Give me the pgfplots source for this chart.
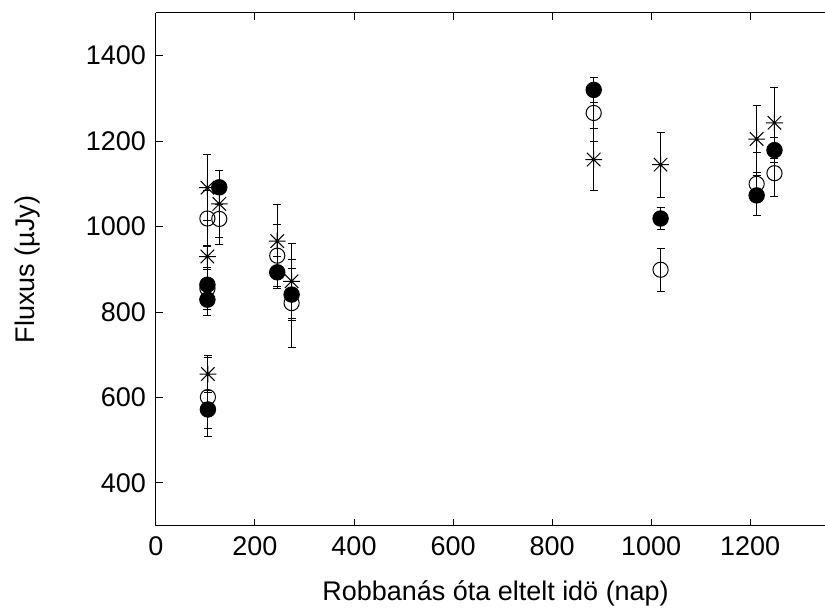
\documentclass[border=0pt]{standalone}
\usepackage{fontspec}
\setmainfont{Liberation Sans}
\usepackage{pgfplots}
\usepackage{pgfplotstable}
\pgfplotsset{compat=1.18}
\newcommand{\tf}{\fontsize{13.5}{16}\selectfont}
\pgfdeclareplotmark{gpstar}{%
 \pgfpathmoveto{\pgfqpoint{-\pgfplotmarksize}{0pt}}\pgfpathlineto{\pgfqpoint{\pgfplotmarksize}{0pt}}%
 \pgfpathmoveto{\pgfqpoint{0pt}{-\pgfplotmarksize}}\pgfpathlineto{\pgfqpoint{0pt}{\pgfplotmarksize}}%
 \pgfpathmoveto{\pgfqpoint{-0.8\pgfplotmarksize}{-0.8\pgfplotmarksize}}\pgfpathlineto{\pgfqpoint{0.8\pgfplotmarksize}{0.8\pgfplotmarksize}}%
 \pgfpathmoveto{\pgfqpoint{-0.8\pgfplotmarksize}{0.8\pgfplotmarksize}}\pgfpathlineto{\pgfqpoint{0.8\pgfplotmarksize}{-0.8\pgfplotmarksize}}%
 \pgfusepathqstroke}

\pgfplotstableread{
x y e
105 572 45
104 829 38
104 864 35
128 1092 40
245 893 37
274 841 60
884 1320 29
1019 1019 25
1213 1073 47
1249 1179 30
}\filledtab

\pgfplotstableread{
x y e
105 601 92
104 855 50
104 1019 65
128 1018 60
245 932 72
274 821 103
884 1266 67
1019 899 50
1213 1100 74
1249 1125 54
}\opentab

\pgfplotstableread{
x y e
105 655 43
104 930 25
104 1091 77
128 1053 78
245 966 85
274 872 88
884 1157 73
1019 1145 76
1213 1205 78
1249 1243 83
}\startab

\begin{document}
\begin{tikzpicture}
\begin{axis}[
  scale only axis,
  width=334.5pt, height=256.5pt,
  xmin=0, xmax=1350, ymin=300, ymax=1500,
  xtick={0,200,400,600,800,1000,1200}, ytick={400,600,800,1000,1200,1400},
  xticklabels={{\tf 0},{\tf 200},{\tf 400},{\tf 600},{\tf 800},{\tf 1000},{\tf 1200}},
  yticklabels={{\tf 400},{\tf 600},{\tf 800},{\tf 1000},{\tf 1200},{\tf 1400}},
  axis x line*=box, axis y line*=left,
  tick align=inside, major tick length=3.5pt,
  tick style={black, line width=0.5pt},
  axis line style={black, line width=0.5pt},
  xticklabel style={font=\tf, yshift=-2pt},
  yticklabel style={font=\tf, xshift=-1.5pt},
  xlabel={Robbanás óta eltelt idö (nap)},
  ylabel={Fluxus (µJy)},
  every axis x label/.style={at={(axis description cs:0.508,-0.133)}, anchor=center, font=\tf},
  every axis y label/.style={at={(axis description cs:-0.192,0.5)}, anchor=center, rotate=90, font=\tf},
  error bars/y dir=both, error bars/y explicit,
  error bars/error bar style={black, line width=0.5pt},
  error bars/error mark options={rotate=90, mark size=2pt, black, line width=0.5pt},
  clip=false,
]
\addplot[only marks, mark=o, mark size=3.8pt, mark options={black, line width=0.5pt}]
  table[x=x, y=y, y error=e] {\opentab};
\addplot[only marks, mark=gpstar, mark size=4.2pt, mark options={black, line width=0.5pt}]
  table[x=x, y=y, y error=e] {\startab};
\addplot[only marks, mark=*, mark size=3.9pt, mark options={black, fill=black, line width=0.4pt}]
  table[x=x, y=y, y error=e] {\filledtab};
\end{axis}
\path ([shift={(-78pt,-40.5pt)}]current axis.south west) rectangle ([shift={(0pt,6.5pt)}]current axis.north east);
\end{tikzpicture}
\end{document}
